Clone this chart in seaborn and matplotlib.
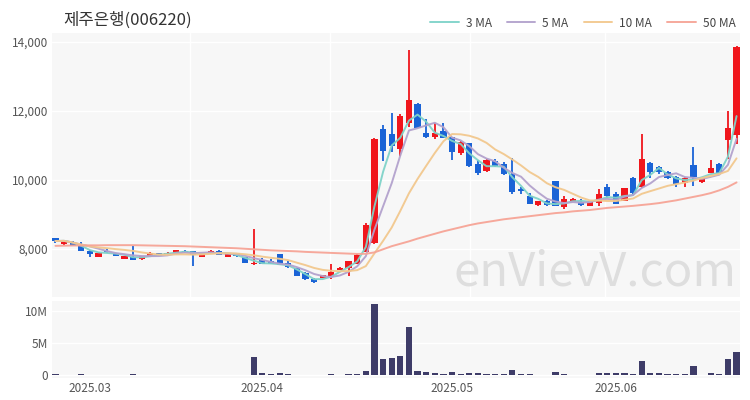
import numpy as np
import pandas as pd
import matplotlib
matplotlib.use("Agg")
import matplotlib.pyplot as plt
import seaborn as sns

# 거래일 (2025.02.25 ~ 2025.06.24, 휴장일 제외)
holidays = ["2025-03-03", "2025-05-01", "2025-05-05", "2025-05-06", "2025-06-03", "2025-06-06"]
dates = pd.bdate_range("2025-02-25", "2025-06-24")
dates = dates[~dates.isin(pd.to_datetime(holidays))]

opens = [8310, 8130, 8200, 8090, 7950, 7780, 7950, 7870, 7720, 7760,
         7700, 7800, 7870, 7840, 7870, 7950, 7930, 7780, 7860, 7950,
         7780, 7870, 7760, 7550, 7680, 7660, 7850, 7600, 7450, 7290,
         7120, 7160, 7180, 7390, 7450, 7570, 7910, 8160, 11470, 11330,
         10910, 11640, 12200, 11350, 11240, 11410, 11240, 10790, 11060, 10460,
         10250, 10560, 10460, 10170, 9750, 9530, 9270, 9400, 9960, 9210,
         9360, 9370, 9260, 9330, 9810, 9580, 9390, 10070, 9800, 10490,
         10380, 10240, 10100, 9910, 10430, 9930, 10200, 10470, 11170, 11300]
highs = [8320, 8250, 8230, 8200, 7960, 7900, 8000, 7890, 7810, 8090,
         7800, 7900, 7880, 7900, 7980, 7960, 7940, 7880, 7960, 7970,
         7860, 7880, 7770, 8570, 7740, 7720, 7860, 7640, 7460, 7330,
         7170, 7240, 7560, 7470, 7660, 7840, 8740, 11220, 11590, 11950,
         11900, 13770, 12220, 11760, 11640, 11660, 11260, 11140, 11080, 10580,
         10600, 10600, 10520, 10640, 9810, 9630, 9400, 9410, 9980, 9540,
         9470, 9450, 9380, 9740, 9870, 9660, 9780, 10090, 11320, 10510,
         10420, 10260, 10120, 10090, 10960, 10080, 10570, 10490, 12000, 13880]
lows = [8160, 8120, 8080, 7940, 7780, 7770, 7890, 7790, 7710, 7680,
        7690, 7790, 7800, 7830, 7860, 7890, 7510, 7770, 7850, 7820,
        7770, 7780, 7580, 7540, 7560, 7560, 7520, 7460, 7210, 7110,
        7020, 7150, 7140, 7380, 7220, 7560, 7900, 8140, 10560, 10810,
        10710, 11550, 11500, 11230, 11180, 11210, 10580, 10730, 10390, 10150,
        10230, 10380, 10150, 9590, 9580, 9290, 9260, 9260, 9240, 9170,
        9350, 9240, 9250, 9250, 9470, 9290, 9380, 9600, 9780, 10050,
        10160, 10040, 9800, 9810, 9830, 9920, 10190, 10180, 10610, 11050]
closes = [8230, 8240, 8090, 7950, 7860, 7890, 7900, 7800, 7790, 7690,
          7790, 7890, 7810, 7890, 7970, 7900, 7820, 7870, 7950, 7830,
          7850, 7790, 7590, 7600, 7570, 7570, 7530, 7470, 7220, 7120,
          7030, 7230, 7330, 7450, 7640, 7830, 8700, 11180, 10830, 10990,
          11860, 12320, 11510, 11240, 11370, 11220, 10810, 11100, 10410, 10210,
          10580, 10410, 10170, 9650, 9670, 9310, 9380, 9270, 9250, 9440,
          9460, 9280, 9370, 9600, 9550, 9300, 9760, 9620, 10610, 10220,
          10220, 10050, 9870, 10070, 10100, 10070, 10340, 10190, 11500, 13870]
# 거래량 (백만 주)
volume_m = [0.05, 0.03, 0.03, 0.06, 0.03, 0.02, 0.02, 0.03, 0.02, 0.08,
            0.02, 0.02, 0.02, 0.02, 0.02, 0.02, 0.03, 0.02, 0.02, 0.02,
            0.02, 0.02, 0.03, 2.76, 0.22, 0.08, 0.22, 0.08, 0.03, 0.03,
            0.03, 0.03, 0.05, 0.03, 0.05, 0.08, 0.62, 11.0, 2.40, 2.60,
            3.00, 7.40, 0.58, 0.40, 0.22, 0.16, 0.50, 0.16, 0.34, 0.25,
            0.16, 0.08, 0.12, 0.80, 0.12, 0.12, 0.03, 0.03, 0.45, 0.08,
            0.03, 0.03, 0.03, 0.26, 0.22, 0.22, 0.22, 0.16, 2.10, 0.26,
            0.22, 0.12, 0.08, 0.08, 1.30, 0.03, 0.34, 0.16, 2.40, 3.50]
# 50일 이동평균 (차트에서 읽은 값, 이전 데이터 필요)
ma50 = [8090, 8095, 8100, 8100, 8105, 8105, 8110, 8110, 8110, 8110,
        8105, 8100, 8095, 8090, 8085, 8080, 8070, 8060, 8050, 8040,
        8030, 8020, 8005, 7990, 7975, 7960, 7950, 7940, 7930, 7915,
        7905, 7895, 7885, 7875, 7865, 7855, 7860, 7900, 7990, 8080,
        8150, 8220, 8300, 8370, 8440, 8510, 8570, 8630, 8690, 8740,
        8780, 8820, 8860, 8890, 8920, 8950, 8980, 9010, 9040, 9060,
        9090, 9110, 9130, 9160, 9190, 9210, 9230, 9250, 9275, 9300,
        9330, 9370, 9410, 9460, 9510, 9560, 9620, 9700, 9800, 9930]

df = pd.DataFrame({"open": opens, "high": highs, "low": lows, "close": closes,
                   "volume": np.array(volume_m) * 1e6, "ma50": ma50}, index=dates)
df["x"] = np.arange(len(df))
df["ma3"] = df["close"].rolling(3, min_periods=1).mean()
df["ma5"] = df["close"].rolling(5, min_periods=1).mean()
df["ma10"] = df["close"].rolling(10, min_periods=1).mean()

sns.set_theme(style="white")
plt.rcParams["font.family"] = ["Noto Sans CJK KR", "DejaVu Sans"]

RED = "#f0161c"
BLUE = "#1a63d6"
BG = "#f7f7f7"

fig = plt.figure(figsize=(7.5, 4), dpi=100)
ax = fig.add_axes([52 / 750, 1 - 296.7 / 400, 688 / 750, 263.4 / 400])
axv = fig.add_axes([52 / 750, 1 - 378 / 400, 688 / 750, 77.3 / 400], sharex=ax)

for a in (ax, axv):
    a.set_facecolor(BG)
    for s in a.spines.values():
        s.set_visible(False)
    a.tick_params(length=0, labelsize=8.5, colors="#555555", pad=3)

# 캔들
up = df["close"] >= df["open"]
colors = np.where(up, RED, BLUE)
ax.vlines(df["x"], df["low"], df["high"], color=colors, linewidth=1.3, zorder=3)
body = np.maximum((df["close"] - df["open"]).abs(), 25)
ax.bar(df["x"], body, bottom=np.minimum(df["open"], df["close"]), width=0.72,
       color=colors, linewidth=0, zorder=3)

# 이동평균선
ma_styles = [("ma3", "3 MA", "#7fd3c9"), ("ma5", "5 MA", "#b3a2cd"),
             ("ma10", "10 MA", "#f2c88e"), ("ma50", "50 MA", "#f6a496")]
for col, lab, c in ma_styles:
    sns.lineplot(data=df, x="x", y=col, ax=ax, color=c, linewidth=1.4,
                 label=lab, zorder=4, alpha=0.95)

handles, labels = ax.get_legend_handles_labels()
ax.get_legend().remove()
fig.legend(handles, labels, loc="upper right", bbox_to_anchor=(0.995, 0.985), ncol=4,
           frameon=False, fontsize=8.5, handlelength=2.4, columnspacing=1.3,
           handletextpad=0.6, labelcolor="#444444")

ax.set_ylim(6615, 14255)
ax.set_yticks([8000, 10000, 12000, 14000])
ax.yaxis.set_major_formatter(matplotlib.ticker.FuncFormatter(lambda v, p: f"{int(v):,}"))
ax.grid(axis="y", color="white", linewidth=1)
ax.set_xticks([15.6, 31.9, 48.1, 63.7], minor=True)
ax.grid(axis="x", which="minor", color="white", linewidth=1)
ax.set_xlabel("")
ax.set_ylabel("")
ax.tick_params(labelbottom=False)

ax.text(0.789, 0.094, "enVievV.com", transform=ax.transAxes, ha="center", va="center",
        fontsize=34, color="#dedede", zorder=1)

# 거래량
axv.bar(df["x"], df["volume"], width=0.72, color="#3e3c68", linewidth=0, zorder=3)
axv.set_ylim(-0.5e6, 11.56e6)
axv.set_yticks([0, 5e6, 10e6])
axv.set_yticklabels(["0", "5M", "10M"])
axv.grid(axis="y", color="white", linewidth=1)

month_first = df.groupby(df.index.to_period("M"))["x"].first().iloc[1:]
axv.set_xticks(month_first.values)
axv.set_xticklabels([d.strftime("%Y.%m") for d in month_first.index.to_timestamp()])
axv.set_xlim(-0.4, 79.4)

fig.text(63 / 750, 1 - 20 / 400, "제주은행(006220)", fontsize=12, color="#333333",
         va="center", ha="left")

fig.savefig("out.png", dpi=100, facecolor="white")
